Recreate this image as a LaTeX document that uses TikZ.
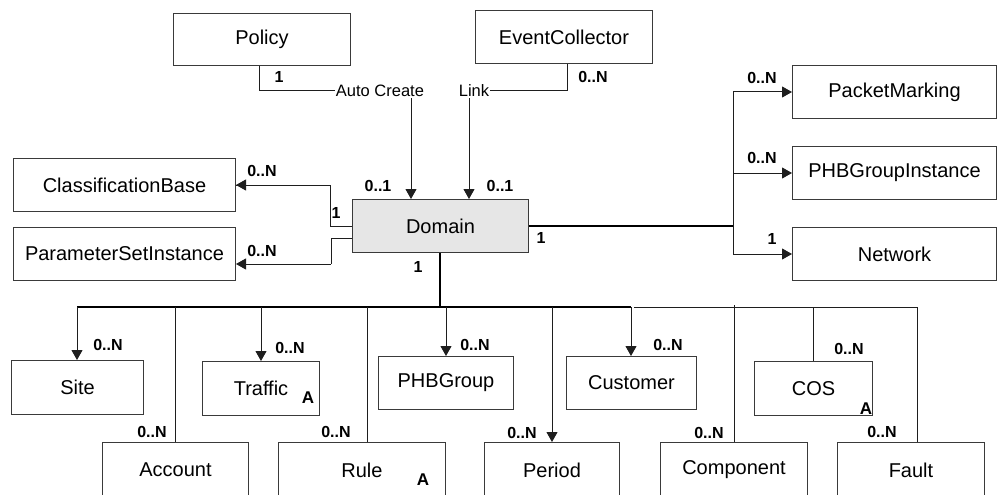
\documentclass[tikz,border=0pt]{standalone}
\usepackage{fontspec}
\setmainfont{Liberation Sans}
\usetikzlibrary{arrows.meta}
\definecolor{edgec}{HTML}{3A3A3A}
\definecolor{linec}{HTML}{1E1E1E}
\definecolor{domfill}{HTML}{E6E6E6}
\tikzset{
  box/.style={draw=edgec, line width=1pt, inner sep=0pt, anchor=north west,
              font=\fontsize{20}{23}\selectfont},
  conn/.style={draw=linec, line width=1pt},
  heavy/.style={draw=black, line width=2pt},
  arr/.style={conn, -{Triangle[length=10pt,width=11pt]}},
  mult/.style={font=\fontsize{16}{18}\selectfont\bfseries, inner sep=0pt},
  amark/.style={font=\fontsize{17}{19}\selectfont\bfseries, inner sep=0pt},
  rolelbl/.style={font=\fontsize{16.5}{18}\selectfont, inner sep=1pt, fill=white},
}
\begin{document}
\begin{tikzpicture}[x=1pt,y=-1pt]
\useasboundingbox (0,0) rectangle (997,495);

% classes
\node[box, minimum width=177, minimum height=52] (policy) at (173,13) {Policy};
\node[box, minimum width=177, minimum height=53] (evc) at (475,10) {EventCollector};
\node[box, minimum width=222, minimum height=53] (classb) at (13,158) {ClassificationBase};
\node[box, minimum width=222, minimum height=53] (pset) at (13,227) {ParameterSetInstance};
\node[box, fill=domfill, minimum width=176, minimum height=53] (domain) at (352,199) {Domain};
\node[box, minimum width=204, minimum height=53] (packet) at (792,65) {PacketMarking};
\node[box, minimum width=204, minimum height=53] (phbgi) at (792,146) {PHBGroupInstance};
\node[box, minimum width=204, minimum height=53] (network) at (792,227) {Network};
\node[box, minimum width=132, minimum height=54] (site) at (11,360) {Site};
\node[box, minimum width=117, minimum height=54] (traffic) at (202,361) {Traffic};
\node[box, minimum width=135, minimum height=53] (phbgroup) at (378,356) {PHBGroup};
\node[box, minimum width=130, minimum height=53] (customer) at (566,356) {Customer};
\node[box, minimum width=118, minimum height=54] (cos) at (754,361) {COS};
\node[box, minimum width=146, minimum height=55] (account) at (102,442) {Account};
\node[box, minimum width=167, minimum height=55] (rule) at (278,442) {Rule};
\node[box, minimum width=135, minimum height=55] (period) at (484,442) {Period};
\node[box, minimum width=147, minimum height=55] (component) at (660,442) {Component};
\node[box, minimum width=147, minimum height=55] (fault) at (837,442) {Fault};

% association names
\node[rolelbl] (autoc) at (380,91) {Auto Create};
\node[rolelbl] (link) at (474,91) {Link};

% Policy / EventCollector into Domain
\coordinate (pcx) at (259,0);
\coordinate (acx) at (411,0);
\coordinate (ecx) at (567,0);
\coordinate (lkx) at (469,0);
\draw[conn] (policy.south -| pcx) |- (autoc.west);
\draw[arr] (acx |- autoc.south) -- (domain.north -| acx);
\draw[conn] (evc.south -| ecx) |- (link.east);
\draw[arr] (lkx |- link.south) -- (domain.north -| lkx);

% Domain to the left
\coordinate (lup) at (330,226);
\coordinate (ldn) at (331,238);
\coordinate (pseta) at (0,264);
\draw[conn] (domain.west |- lup) -- (lup) |- (classb.east);
\draw[arr] (lup |- classb.east) -- (classb.east);
\draw[conn] (domain.west |- ldn) -- (ldn) -- (ldn |- pseta);
\draw[arr] (ldn |- pseta) -- (pset.east |- pseta);

% Domain to the right
\coordinate (rj) at (733,226);
\draw[heavy] (domain.east |- rj) -- (rj);
\draw[conn] (rj |- packet.west) -- (rj |- network.west);
\draw[arr] (rj |- packet.west) -- (packet.west);
\draw[arr] (rj |- phbgi.west) -- (phbgi.west);
\draw[arr] (rj |- network.west) -- (network.west);

% Domain downwards to the bus
\coordinate (bus) at (440,307);
\coordinate (busL) at (77,307);
\coordinate (busM) at (631,307);
\coordinate (busN) at (634,307);
\coordinate (busR) at (917,307);
\draw[heavy] (domain.south -| bus) -- (bus);
\draw[conn, line width=1.5pt, draw=black] (busL) -- (busM);
\draw[conn] (busN) -- (busR);

% bus drops
\draw[arr] (busL) -- (site.north -| busL);
\coordinate (acc) at (175,307);
\draw[conn] (acc) -- (account.north -| acc);
\coordinate (trf) at (261,307);
\draw[arr] (trf) -- (traffic.north -| trf);
\coordinate (rul) at (367,307);
\draw[conn] (rul) -- (rule.north -| rul);
\coordinate (phg) at (446,307);
\draw[arr] (phg) -- (phbgroup.north -| phg);
\coordinate (per) at (552,307);
\draw[arr] (per) -- (period.north -| per);
\draw[arr] (busM) -- (customer.north -| busM);
\coordinate (cmp) at (734,305);
\draw[conn] (cmp) -- (component.north -| cmp);
\coordinate (cs) at (813,307);
\draw[conn] (cs) -- (cos.north -| cs);
\draw[conn] (busR) -- (fault.north -| busR);

% multiplicities
\node[mult] (m1) at (279,77) {1};
\node[mult] (m2) at (593,77) {0..N};
\node[mult] (m3) at (378,186) {0..1};
\node[mult] (m4) at (500,186) {0..1};
\node[mult] (m5) at (262,171) {0..N};
\node[mult] (m6) at (336,213) {1};
\node[mult] (m7) at (262,251) {0..N};
\node[mult] (m8) at (418,267) {1};
\node[mult] (m9) at (541,238) {1};
\node[mult] (m10) at (762,78) {0..N};
\node[mult] (m11) at (762,158) {0..N};
\node[mult] (m12) at (772,239) {1};
\node[mult] (m13) at (108,345) {0..N};
\node[mult] (m14) at (152,432) {0..N};
\node[mult] (m15) at (290,348) {0..N};
\node[mult] (m16) at (336,432) {0..N};
\node[mult] (m17) at (475,345) {0..N};
\node[mult] (m18) at (522,433) {0..N};
\node[mult] (m19) at (668,345) {0..N};
\node[mult] (m20) at (709,433) {0..N};
\node[mult] (m21) at (849,349) {0..N};
\node[mult] (m22) at (882,432) {0..N};

% abstract markers
\node[amark] (a1) at (308,398) {A};
\node[amark] (a2) at (423,480) {A};
\node[amark] (a3) at (866,409) {A};
\end{tikzpicture}
\end{document}
